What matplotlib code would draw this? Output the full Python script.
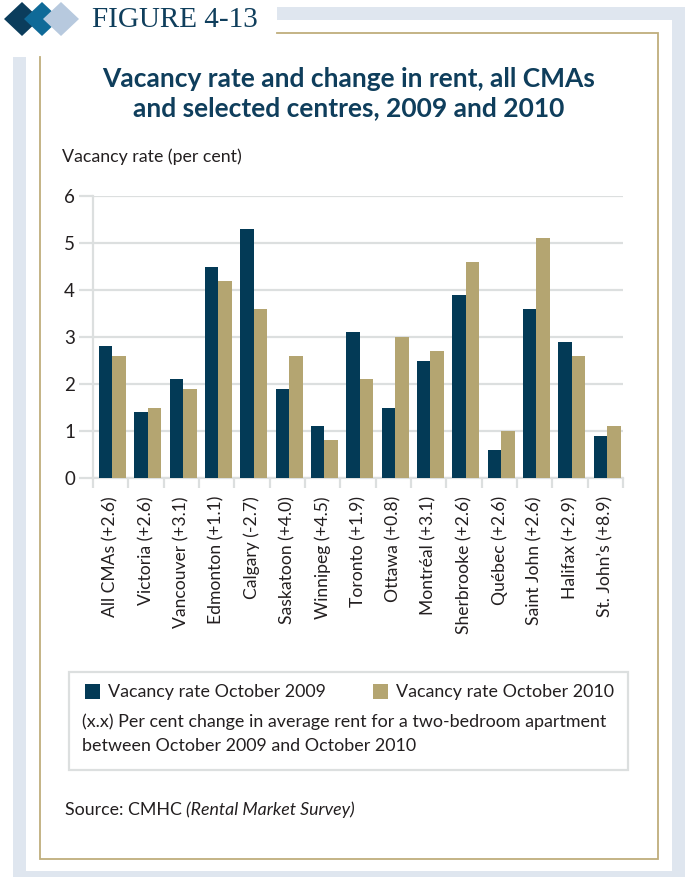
import numpy as np
import matplotlib
matplotlib.use("Agg")
from matplotlib import pyplot as plt
from matplotlib.patches import Rectangle, Polygon

# data
cities = ["All CMAs", "Victoria", "Vancouver", "Edmonton", "Calgary", "Saskatoon",
          "Winnipeg", "Toronto", "Ottawa", "Montréal", "Sherbrooke", "Québec",
          "Saint John", "Halifax", "St. John\u2019s"]
rentChange = ["+2.6", "+2.6", "+3.1", "+1.1", "-2.7", "+4.0", "+4.5", "+1.9",
              "+0.8", "+3.1", "+2.6", "+2.6", "+2.6", "+2.9", "+8.9"]
vac2009 = [2.8, 1.4, 2.1, 4.5, 5.3, 1.9, 1.1, 3.1, 1.5, 2.5, 3.9, 0.6, 3.6, 2.9, 0.9]
vac2010 = [2.6, 1.5, 1.9, 4.2, 3.6, 2.6, 0.8, 2.1, 3.0, 2.7, 4.6, 1.0, 5.1, 2.6, 1.1]
yTicks = [0, 1, 2, 3, 4, 5, 6]

NAVY = "#033a56"
GOLD = "#b4a571"
GRID = "#dcdfdf"
FRAME = "#dfe6ef"
LINE_GOLD = "#bfae7c"
TITLE = "#0f3e5c"
TXT = "#231f20"
FONT = "Lato"

W, H = 689, 877
fig = plt.figure(figsize=(W / 100, H / 100), dpi=100)
plt.rcParams["font.family"] = [FONT, "DejaVu Sans"]

# background overlay, pixel coordinates
bg = fig.add_axes([0, 0, 1, 1], zorder=0)
bg.set_xlim(0, W)
bg.set_ylim(H, 0)
bg.axis("off")

bg.add_patch(Rectangle((13, 7), 672, 880, color=FRAME, lw=0))
bg.add_patch(Rectangle((26, 20), 646, 851, color="white", lw=0))
bg.add_patch(Rectangle((0, 0), 277, 57, color="white", lw=0))
# gold border, open at top-left
bg.plot([277, 658, 658, 40, 40], [33, 33, 859, 859, 57], color=LINE_GOLD, lw=1.3,
        solid_joinstyle="miter")

# diamonds
for cx, col in [(22, "#0b3d5c"), (42, "#0f6a98"), (61, "#b7c9de")]:
    bg.add_patch(Polygon([(cx - 18, 19), (cx, 2), (cx + 18, 19), (cx, 36)],
                         closed=True, color=col, lw=0))
bg.text(92, 20, "FIGURE 4-13", family="Liberation Serif", fontsize=21, color=TITLE,
        va="center", ha="left")

bg.text(349, 79, "Vacancy rate and change in rent, all CMAs", fontsize=19,
        fontweight="bold", color=TITLE, ha="center", va="center")
bg.text(349, 108, "and selected centres, 2009 and 2010", fontsize=19,
        fontweight="bold", color=TITLE, ha="center", va="center")
bg.text(62, 157, "Vacancy rate (per cent)", fontsize=12.8, color=TXT, va="center")

# legend box
bg.add_patch(Rectangle((69, 672), 559, 98, fill=False, ec=GRID, lw=1.6))
bg.add_patch(Rectangle((85, 684), 15, 15, color=NAVY, lw=0))
bg.text(108, 692, "Vacancy rate October 2009", fontsize=12.9, color=TXT, va="center")
bg.add_patch(Rectangle((373, 684), 15, 15, color=GOLD, lw=0))
bg.text(396, 692, "Vacancy rate October 2010", fontsize=12.9, color=TXT, va="center")
bg.text(82, 722, "(x.x) Per cent change in average rent for a two-bedroom apartment",
        fontsize=12.9, color=TXT, va="center")
bg.text(82, 746, "between October 2009 and October 2010", fontsize=12.9, color=TXT,
        va="center")

t = bg.text(65, 810, "Source: CMHC ", fontsize=12.8, color=TXT, va="center")
bg.annotate("(Rental Market Survey)", xycoords=t, xy=(1, 0.5), va="center",
            fontsize=12.8, style="italic", color=TXT)

# chart
x0, x1, yTop, yBot = 93, 623, 196, 478
ax = fig.add_axes([x0 / W, 1 - yBot / H, (x1 - x0) / W, (yBot - yTop) / H], zorder=1)
ax.patch.set_alpha(0)
n = len(cities)
idx = np.arange(n)
bw = 0.38
ax.bar(idx + 0.05 - bw / 2, vac2009, bw, color=NAVY, zorder=3)
ax.bar(idx + 0.05 + bw / 2, vac2010, bw, color=GOLD, zorder=3)

ax.set_xlim(-0.5, n - 0.5)
ax.set_ylim(0, 6)
ax.set_yticks(yTicks)
ax.set_yticklabels([str(v) for v in yTicks], fontsize=13.5, color=TXT)
ax.tick_params(axis="y", length=10, width=1.6, color=GRID, pad=3)
ax.grid(axis="y", color=GRID, lw=1.6, zorder=0)

ax.set_xticks(idx)
ax.set_xticklabels([f"{c} ({r})" for c, r in zip(cities, rentChange)], rotation=90,
                   fontsize=12.6, color=TXT)
ax.tick_params(axis="x", which="major", length=0, pad=13)
ax.set_xticks(np.arange(n + 1) - 0.5, minor=True)
ax.tick_params(axis="x", which="minor", length=7, width=1.6, color=GRID)

for s in ["top", "right"]:
    ax.spines[s].set_visible(False)
for s in ["left", "bottom"]:
    ax.spines[s].set_color(GRID)
    ax.spines[s].set_linewidth(1.6)

fig.savefig("out.png", dpi=100)
